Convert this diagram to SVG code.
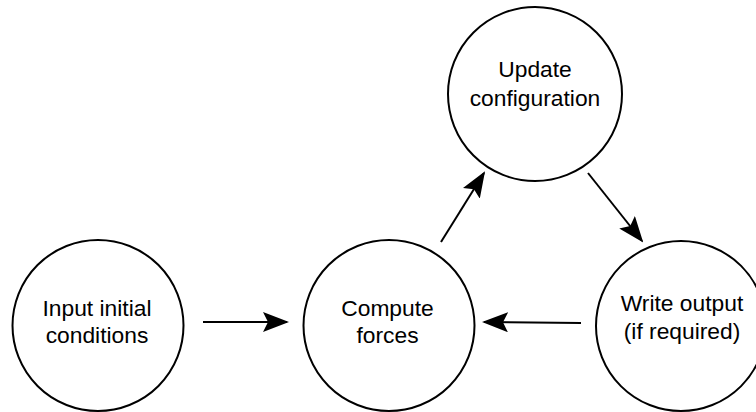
<svg xmlns="http://www.w3.org/2000/svg" width="756" height="412" viewBox="0 0 756 412">
<style>
.node{fill:#fff;stroke:#000;stroke-width:2}
.lbl{font-family:"Liberation Sans",Arial,sans-serif;font-size:22.8px;fill:#000;text-anchor:middle}
.edge{stroke:#000;stroke-width:2;fill:none;marker-end:url(#ah)}
</style>
<defs>
<marker id="ah" viewBox="0 0 26 20" refX="24" refY="10" markerWidth="26" markerHeight="20" markerUnits="userSpaceOnUse" orient="auto">
<path d="M0,0 L26,10 L0,20 L5,10 Z" fill="#000"/>
</marker>
</defs>
<rect width="756" height="412" fill="#fff"/>
<g id="input">
<circle class="node" cx="98" cy="325.5" r="85.5"/>
<text class="lbl" x="97" y="315.5">Input initial</text>
<text class="lbl" x="97" y="343">conditions</text>
</g>
<g id="compute">
<circle class="node" cx="389" cy="325.5" r="85.5"/>
<text class="lbl" x="387.5" y="315.5">Compute</text>
<text class="lbl" x="387.5" y="343">forces</text>
</g>
<g id="update">
<circle class="node" cx="535" cy="94" r="87"/>
<text class="lbl" x="535" y="77">Update</text>
<text class="lbl" x="535" y="106">configuration</text>
</g>
<g id="write">
<circle class="node" cx="681" cy="326" r="85"/>
<text class="lbl" x="682" y="311">Write output</text>
<text class="lbl" x="682" y="338.5">(if required)</text>
</g>
<g id="connectors">
<line class="edge" x1="203" y1="322" x2="287" y2="322"/>
<line class="edge" x1="441" y1="242" x2="484" y2="173"/>
<line class="edge" x1="588" y1="173" x2="642" y2="241"/>
<line class="edge" x1="581" y1="323" x2="484" y2="322"/>
</g>
</svg>
